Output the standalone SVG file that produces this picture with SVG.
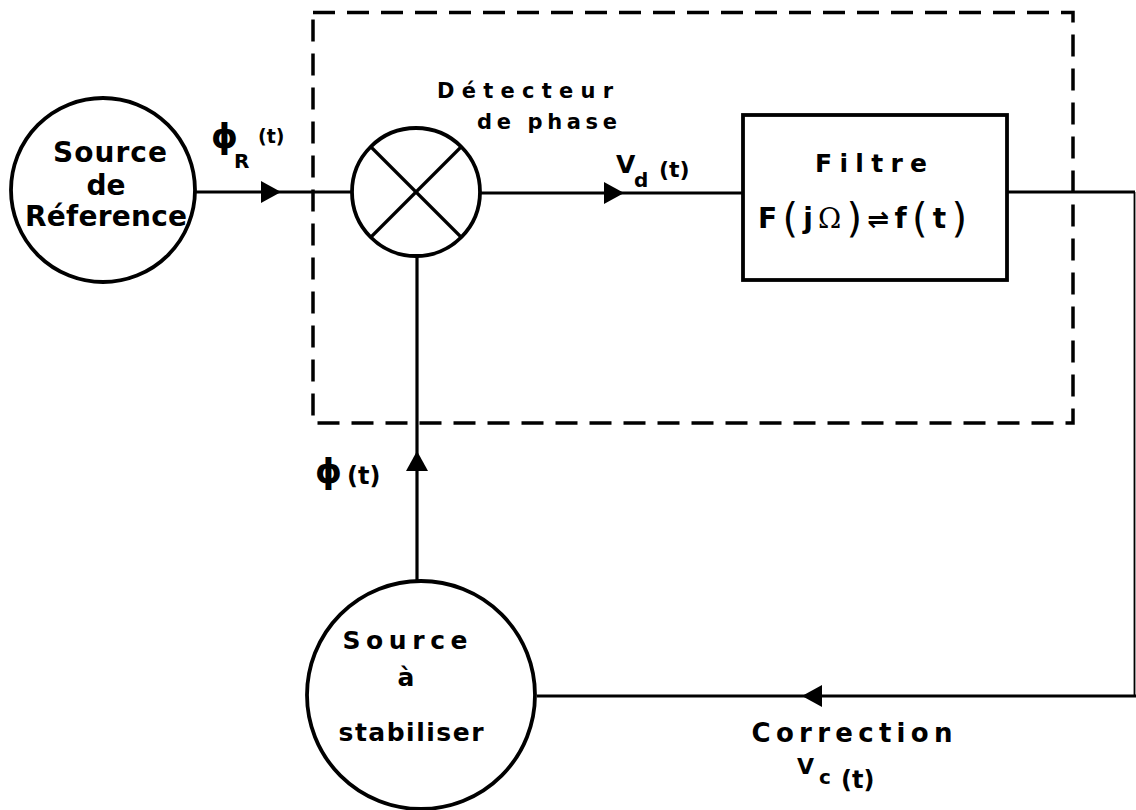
<svg xmlns="http://www.w3.org/2000/svg" xmlns:xlink="http://www.w3.org/1999/xlink" width="1136" height="810" viewBox="0 0 1136 810">
<style>
.bg{fill:#fff}
.ln{stroke:#000;stroke-width:3.2;fill:none;stroke-linecap:butt}
.thin{stroke:#000;stroke-width:1.8;fill:none}
.node{stroke:#000;stroke-width:3.8;fill:#fff}
.dash{stroke:#000;stroke-width:3.5;fill:none;stroke-dasharray:22 12}
.t{font-family:"DejaVu Sans","Liberation Sans",sans-serif;font-weight:bold;fill:#000}
.ah{fill:#000}
</style>
<defs>
<path id="arrow" class="ah" d="M0,0 L-20,-11 L-20,11 Z"/>
</defs>
<rect class="bg" x="0" y="0" width="1136" height="810"/>

<g id="frame">
<rect class="dash" x="313" y="12.5" width="760" height="410.5"/>
</g>

<g id="connectors">
<line class="ln" x1="195" y1="192" x2="352" y2="192"/>
<line class="ln" x1="480" y1="193" x2="743" y2="193"/>
<polyline class="ln" points="1007,192 1135,192"/>
<line class="thin" x1="1134.5" y1="192" x2="1134.5" y2="697"/>
<line class="ln" x1="1136" y1="696" x2="537" y2="696"/>
<line class="ln" x1="417" y1="256" x2="417" y2="580"/>
<use xlink:href="#arrow" transform="translate(281,192)"/>
<use xlink:href="#arrow" transform="translate(624,193)"/>
<use xlink:href="#arrow" transform="translate(417,451) rotate(-90)"/>
<use xlink:href="#arrow" transform="translate(802,696) rotate(180)"/>
</g>

<g id="source-reference">
<circle class="node" cx="103" cy="190" r="92"/>
<text class="t" x="110" y="162" font-size="28" text-anchor="middle" textLength="114" lengthAdjust="spacing">Source</text>
<text class="t" x="106" y="195" font-size="28" text-anchor="middle">de</text>
<text class="t" x="106" y="226" font-size="28" text-anchor="middle" textLength="162" lengthAdjust="spacing">Réference</text>
</g>

<g id="detecteur">
<circle class="node" cx="416" cy="192" r="64"/>
<line class="ln" x1="371" y1="147" x2="461" y2="237"/>
<line class="ln" x1="461" y1="147" x2="371" y2="237"/>
<text class="t" x="525" y="98" font-size="21" text-anchor="middle" textLength="176" lengthAdjust="spacing">Détecteur</text>
<text class="t" x="547" y="129" font-size="21" text-anchor="middle" textLength="140" lengthAdjust="spacing">de phase</text>
</g>

<g id="filtre">
<rect class="node" x="743" y="115" width="264" height="165"/>
<text class="t" x="871" y="172" font-size="25" text-anchor="middle" textLength="112" lengthAdjust="spacing">Filtre</text>
<text class="t" x="758" y="228" font-size="28" textLength="209" lengthAdjust="spacing">F<tspan font-size="40" dy="4" font-weight="normal">(</tspan><tspan dy="-4">j</tspan><tspan font-weight="normal" font-family="DejaVu Serif, serif">Ω</tspan><tspan font-size="40" dy="4" font-weight="normal">)</tspan><tspan dy="-4" font-size="26">⇌</tspan>f<tspan font-size="40" dy="4" font-weight="normal">(</tspan><tspan dy="-4">t</tspan><tspan font-size="40" dy="4" font-weight="normal">)</tspan></text>
</g>

<g id="source-stabiliser">
<circle class="node" cx="421" cy="695" r="114"/>
<text class="t" x="405" y="649" font-size="25" text-anchor="middle" textLength="125" lengthAdjust="spacing">Source</text>
<text class="t" x="406" y="686" font-size="25" text-anchor="middle">à</text>
<text class="t" x="411" y="741" font-size="25" text-anchor="middle" textLength="145" lengthAdjust="spacing">stabiliser</text>
</g>

<g id="labels">
<text class="t" x="211" y="148" font-size="34" font-weight="normal">ϕ</text>
<text class="t" x="234" y="168" font-size="20">R</text>
<text class="t" x="258" y="143" font-size="19">(t)</text>

<text class="t" x="616" y="173" font-size="25">V</text>
<text class="t" x="634" y="187" font-size="20">d</text>
<text class="t" x="659" y="177" font-size="22">(t)</text>

<text class="t" x="315" y="483" font-size="34" font-weight="normal">ϕ</text>
<text class="t" x="347" y="484" font-size="24">(t)</text>

<text class="t" x="852" y="742" font-size="26" text-anchor="middle" textLength="201" lengthAdjust="spacing">Correction</text>
<text class="t" x="797" y="774" font-size="22">V</text>
<text class="t" x="819" y="784" font-size="20">c</text>
<text class="t" x="841" y="788" font-size="24">(t)</text>
</g>
</svg>
